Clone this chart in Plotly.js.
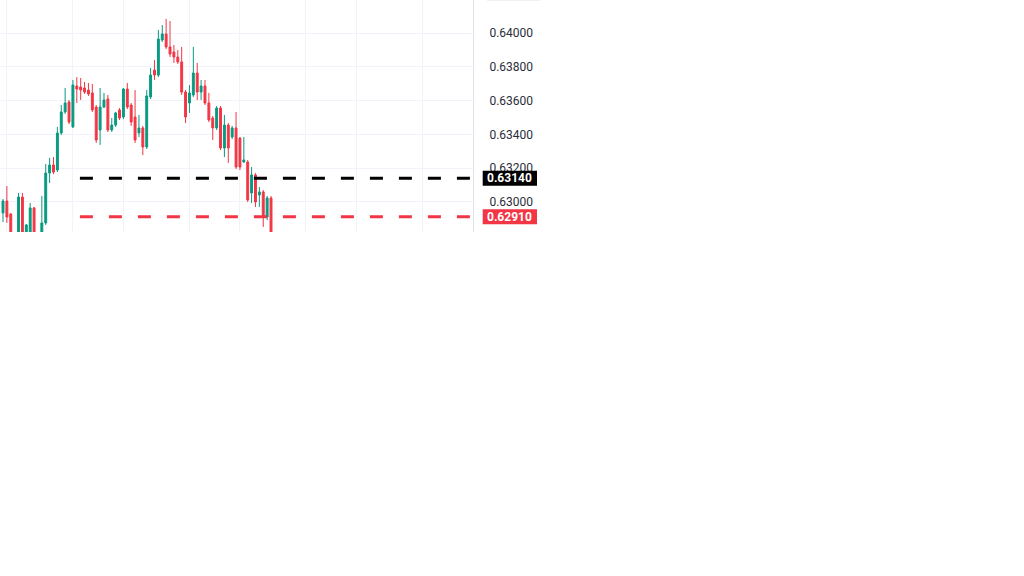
<!DOCTYPE html>
<html>
<head>
<meta charset="utf-8">
<script src="https://cdn.plot.ly/plotly-3.0.1.min.js"></script>
<style>
html,body{margin:0;padding:0;background:#ffffff;}
#chart{width:1024px;height:576px;}
</style>
</head>
<body>
<div id="chart"></div>
<script>
// ---- data ----
const opens  = [0.62933,0.63004,0.62927,0.62760,0.62773,0.63028,0.62770,0.62773,0.62963,0.62780,
                0.62780,0.62874,0.63170,0.63218,0.63188,0.63408,0.63533,0.63592,0.63444,0.63687,
                0.63681,0.63675,0.63663,0.63646,0.63562,0.63426,0.63562,0.63610,0.63426,0.63455,
                0.63545,0.63503,0.63669,0.63574,0.63503,0.63408,0.63438,0.63325,0.63622,0.63782,
                0.63752,0.63960,0.63996,0.63919,0.63889,0.63859,0.63830,0.63651,0.63586,0.63634,
                0.63764,0.63651,0.63687,0.63586,0.63497,0.63438,0.63556,0.63319,0.63455,0.63384,
                0.63438,0.63378,0.63236,0.63236,0.63052,0.63159,0.63040,0.63058,0.62909,0.63022];
const highs  = [0.63016,0.63093,0.62933,0.62810,0.63052,0.63052,0.62868,0.62992,0.62969,0.62805,
                0.63034,0.63224,0.63260,0.63265,0.63444,0.63574,0.63675,0.63604,0.63723,0.63740,
                0.63735,0.63711,0.63705,0.63699,0.63574,0.63675,0.63646,0.63634,0.63497,0.63533,
                0.63556,0.63675,0.63705,0.63586,0.63663,0.63515,0.63450,0.63663,0.63794,0.63841,
                0.64020,0.64049,0.64085,0.64073,0.63931,0.63901,0.63919,0.63663,0.63693,0.63919,
                0.63824,0.63723,0.63723,0.63646,0.63509,0.63568,0.63568,0.63515,0.63467,0.63450,
                0.63533,0.63384,0.63384,0.63248,0.63206,0.63170,0.63087,0.63069,0.63034,0.63034];
const lows   = [0.62879,0.62874,0.62743,0.62740,0.62760,0.62750,0.62750,0.62760,0.62750,0.62740,
                0.62770,0.62862,0.63111,0.63164,0.63176,0.63396,0.63521,0.63461,0.63438,0.63586,
                0.63604,0.63640,0.63628,0.63533,0.63349,0.63337,0.63556,0.63414,0.63414,0.63444,
                0.63485,0.63491,0.63550,0.63450,0.63349,0.63384,0.63277,0.63313,0.63610,0.63723,
                0.63740,0.63948,0.63907,0.63859,0.63824,0.63818,0.63634,0.63467,0.63527,0.63622,
                0.63604,0.63604,0.63574,0.63473,0.63366,0.63426,0.63307,0.63265,0.63230,0.63372,
                0.63194,0.63188,0.63230,0.62998,0.62992,0.62969,0.62969,0.62850,0.62891,0.62750];
const closes = [0.63004,0.62909,0.62773,0.62790,0.63028,0.62773,0.62862,0.62963,0.62773,0.62760,
                0.62874,0.63170,0.63218,0.63176,0.63408,0.63533,0.63586,0.63473,0.63693,0.63669,
                0.63663,0.63651,0.63640,0.63545,0.63366,0.63562,0.63604,0.63426,0.63455,0.63527,
                0.63497,0.63669,0.63562,0.63473,0.63366,0.63438,0.63325,0.63628,0.63752,0.63752,
                0.63966,0.63996,0.63919,0.63877,0.63859,0.63830,0.63651,0.63503,0.63646,0.63764,
                0.63651,0.63687,0.63586,0.63485,0.63438,0.63556,0.63319,0.63455,0.63319,0.63438,
                0.63206,0.63206,0.63248,0.63010,0.63159,0.62998,0.63058,0.62909,0.63022,0.62773];

const yTickVals = [0.630, 0.632, 0.634, 0.636, 0.638, 0.640];
const yTickText = ['0.63000', '0.63200', '0.63400', '0.63600', '0.63800', '0.64000'];
const xGridVals = [1, 18, 31, 48, 61, 78, 91, 108];

const levelValues = [0.6314, 0.6291];
const levelLabels = ['0.63140', '0.62910'];
const levelColors = ['#000000', '#f23645'];
const levelStart = 19.8;

// ---- styling ----
const UP = '#089981', DOWN = '#f23645';
const xIdx = opens.map((_, i) => i);
const xRange = [-0.772, 121.0];
const yRange = [0.628201, 0.641977];

const traces = [{
  type: 'candlestick',
  x: xIdx, open: opens, high: highs, low: lows, close: closes,
  increasing: {line: {color: UP, width: 1}, fillcolor: UP},
  decreasing: {line: {color: DOWN, width: 1}, fillcolor: DOWN},
  whiskerwidth: 0,
  hoverinfo: 'skip',
  showlegend: false
}];

levelValues.forEach((v, i) => {
  traces.push({
    type: 'scatter', mode: 'lines',
    x: [levelStart, xRange[1]], y: [v, v],
    line: {color: levelColors[i], width: 3, dash: '13px,16px'},
    hoverinfo: 'skip', showlegend: false
  });
});

const shapes = [{
  type: 'line', xref: 'paper', yref: 'paper',
  xsizemode: 'pixel', xanchor: 1, x0: 14, x1: 67,
  y0: 1, y1: 1,
  line: {color: '#e0e3eb', width: 1}
}];
const annotations = [];
levelValues.forEach((v, i) => {
  shapes.push({
    type: 'rect', xref: 'paper', yref: 'y',
    xsizemode: 'pixel', xanchor: 1, x0: 9.7, x1: 64,
    ysizemode: 'pixel', yanchor: v, y0: -7.5, y1: 7.5,
    fillcolor: levelColors[i], line: {width: 0}, layer: 'above'
  });
  annotations.push({
    xref: 'paper', yref: 'y', x: 1, y: v, xshift: 36, xanchor: 'center', yanchor: 'middle',
    text: levelLabels[i], showarrow: false,
    font: {family: 'Roboto, Arial, sans-serif', size: 12, color: '#ffffff', weight: 'bold'}
  });
});

const layout = {
  width: 1024, height: 576,
  margin: {l: 0, r: 551, t: 0, b: 344, pad: 0},
  paper_bgcolor: '#ffffff', plot_bgcolor: '#ffffff',
  showlegend: false,
  hovermode: false,
  xaxis: {
    type: 'linear', range: xRange, fixedrange: true,
    rangeslider: {visible: false},
    tickmode: 'array', tickvals: xGridVals, showticklabels: false, ticks: '',
    showgrid: true, gridcolor: '#f0f3fa', gridwidth: 1,
    zeroline: false, showline: false
  },
  yaxis: {
    side: 'right', range: yRange, fixedrange: true,
    tickmode: 'array', tickvals: yTickVals, ticktext: yTickText,
    ticks: '', ticklabelstandoff: 13,
    tickfont: {family: 'Roboto, Arial, sans-serif', size: 12, color: '#2a2e39'},
    showgrid: true, gridcolor: '#f0f3fa', gridwidth: 1,
    zeroline: false, showline: true, linecolor: '#e0e3eb', linewidth: 1
  },
  shapes: shapes,
  annotations: annotations
};

Plotly.newPlot('chart', traces, layout, {staticPlot: true, displayModeBar: false});
</script>
</body>
</html>
